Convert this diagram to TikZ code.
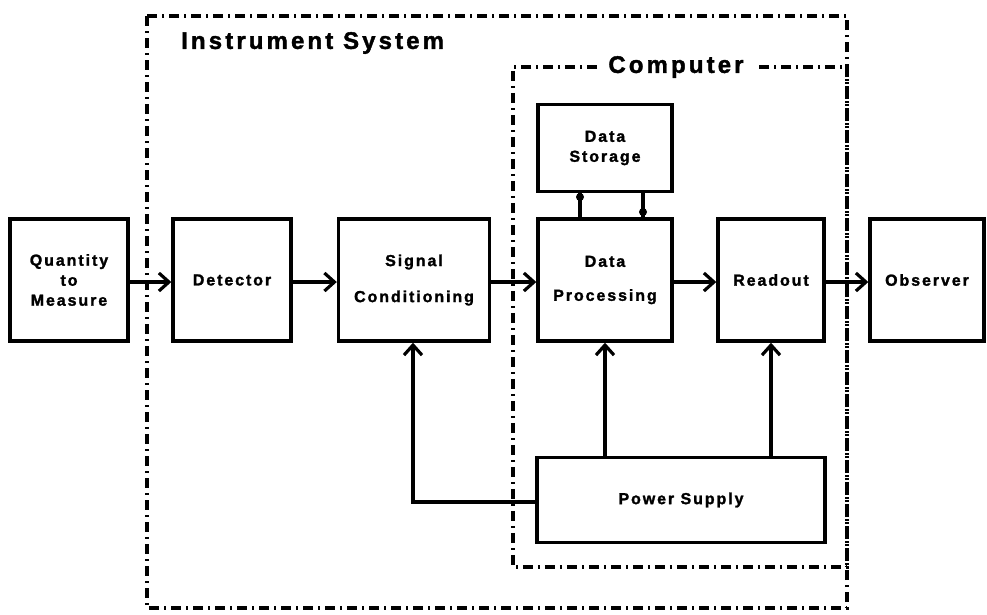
\documentclass[tikz,border=0pt]{standalone}
\usepackage{fontspec}
\newfontfamily\heavy{Liberation Sans}[BoldFont={Liberation Sans Bold}, BoldFeatures={FakeBold=1.6}, LetterSpace=12]
\newfontfamily\heavytitle{Liberation Sans}[BoldFont={Liberation Sans Bold}, BoldFeatures={FakeBold=1.6}, LetterSpace=13]
\usetikzlibrary{arrows.meta}
\tikzset{
  blk/.style={draw, line width=3.4pt, font=\fontsize{16}{20}\selectfont\heavy\bfseries, align=center, inner sep=0pt},
  flow/.style={line width=3.2pt, -{Straight Barb[length=10pt,width=18pt,line width=3.2pt]}},
  link/.style={line width=3.2pt},
  border/.style={line width=3.6pt, dash pattern=on 10pt off 5pt on 2pt off 5pt},
  title/.style={font=\fontsize{24}{26}\selectfont\heavytitle\bfseries, inner sep=3pt},
  knot/.style={circle, fill, inner sep=0pt, minimum size=8pt}
}
\begin{document}
\begin{tikzpicture}[x=1pt,y=-1pt]
\useasboundingbox (0,0) rectangle (987,614);

% instrument system boundary
\draw[border] (147,16) rectangle (847,608);
\node[title, anchor=west] (inst) at (178,43) {Instrument System};

% computer boundary with its title set into the top edge
\node[title, inner xsep=11pt] (comp) at (676,67) {Computer};
\draw[border] (comp.west) -- (513,67) -- (513,567) -- (847,567) -- (847,67) -- (comp.east);

% blocks
\node[blk, minimum width=118pt, minimum height=122pt] (qty) at (69,280) {Quantity\\to\\Measure};
\node[blk, minimum width=118pt, minimum height=122pt] (det) at (232,280) {Detector};
\node[blk, minimum width=151pt, minimum height=122pt] (sig) at (414,280) {Signal\\[16pt]Conditioning};
\node[blk, minimum width=134pt, minimum height=122pt] (proc) at (605,280) {Data\\[14pt]Processing};
\node[blk, minimum width=106pt, minimum height=122pt] (read) at (771,280) {Readout};
\node[blk, minimum width=114pt, minimum height=122pt] (obs) at (927,280) {Observer};
\node[blk, minimum width=134pt, minimum height=87pt] (stor) at (605,148) {Data\\Storage};
\node[blk, minimum width=288pt, minimum height=85pt] (pwr) at (681,500) {Power Supply};

% signal path
\draw[flow] (qty.east |- 0,282) -- (det.west |- 0,282);
\draw[flow] (det.east |- 0,282) -- (sig.west |- 0,282);
\draw[flow] (sig.east |- 0,282) -- (proc.west |- 0,282);
\draw[flow] (proc.east |- 0,282) -- (read.west |- 0,282);
\draw[flow] (read.east |- 0,282) -- (obs.west |- 0,282);

% storage links
\draw[link] (stor.south -| 580,0) -- (proc.north -| 580,0);
\draw[link] (stor.south -| 643,0) -- (proc.north -| 643,0);
\node[knot] (k1) at (580,197) {};
\node[knot] (k2) at (643,212) {};

% power distribution
\draw[flow] (pwr.north -| proc.south) -- (proc.south);
\draw[flow] (pwr.north -| read.south) -- (read.south);
\coordinate (bend) at (413,502);
\draw[flow] (pwr.west |- bend) -- (bend) -- (sig.south -| bend);
\end{tikzpicture}
\end{document}
